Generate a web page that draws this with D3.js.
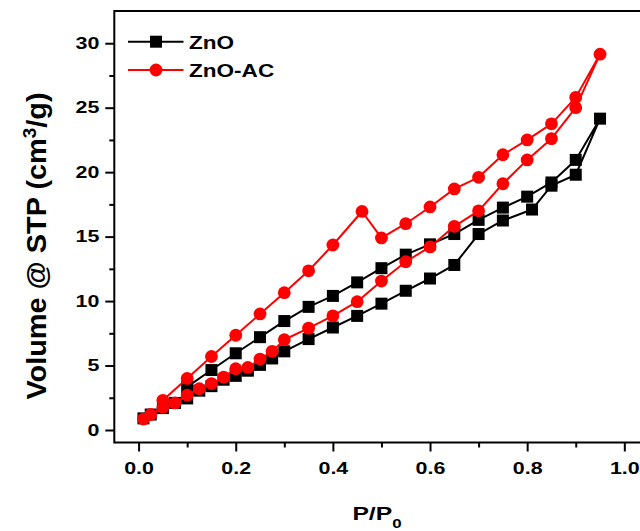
<!DOCTYPE html>
<html>
<head>
<meta charset="utf-8">
<script src="https://cdn.jsdelivr.net/npm/d3@7"></script>
<style>
  html, body { margin: 0; padding: 0; background: #fff; }
  svg { display: block; font-family: "Liberation Sans", Arial, sans-serif; }
</style>
</head>
<body>
<svg id="chart" width="640" height="531"></svg>
<script>
// ZnO isotherm: adsorption up to 0.95, then desorption back down
const znoX = [0.01, 0.025, 0.05, 0.075, 0.1, 0.125, 0.15, 0.175, 0.2, 0.225, 0.25, 0.275, 0.3, 0.35, 0.4, 0.45, 0.5, 0.55, 0.6, 0.65, 0.7, 0.75, 0.81, 0.85, 0.9, 0.95,
              0.9, 0.85, 0.8, 0.75, 0.7, 0.65, 0.6, 0.55, 0.5, 0.45, 0.4, 0.35, 0.3, 0.25, 0.2, 0.15, 0.1];
const znoY = [0.9, 1.2, 1.7, 2.1, 2.45, 3.05, 3.4, 3.9, 4.2, 4.6, 5.05, 5.55, 6.1, 7.05, 7.95, 8.85, 9.8, 10.8, 11.75, 12.8, 15.2, 16.25, 17.1, 18.95, 19.8, 24.15,
              20.95, 19.2, 18.1, 17.25, 16.3, 15.2, 14.4, 13.6, 12.55, 11.45, 10.4, 9.55, 8.45, 7.2, 5.95, 4.65, 3.35];

// ZnO-AC isotherm
const acX = [0.01, 0.025, 0.05, 0.075, 0.1, 0.125, 0.15, 0.175, 0.2, 0.225, 0.25, 0.275, 0.3, 0.35, 0.4, 0.45, 0.5, 0.55, 0.6, 0.65, 0.7, 0.75, 0.8, 0.85, 0.9, 0.95,
             0.9, 0.85, 0.8, 0.75, 0.7, 0.65, 0.6, 0.55, 0.5, 0.46, 0.4, 0.35, 0.3, 0.25, 0.2, 0.15, 0.1, 0.05];
const acY = [0.85, 1.2, 1.75, 2.1, 2.7, 3.2, 3.6, 4.1, 4.75, 4.85, 5.5, 6.1, 7.0, 7.9, 8.85, 9.95, 11.55, 13.05, 14.2, 15.8, 17.0, 19.1, 20.95, 22.6, 25.0, 29.15,
             25.8, 23.75, 22.5, 21.35, 19.6, 18.7, 17.3, 16.0, 14.9, 16.95, 14.35, 12.35, 10.65, 9.0, 7.35, 5.7, 4.0, 2.3];

const xTicks = [0, 0.2, 0.4, 0.6, 0.8, 1.0];
const xMinor = [0.1, 0.3, 0.5, 0.7, 0.9];
const yTicks = [0, 5, 10, 15, 20, 25, 30];
const yMinor = [2.5, 7.5, 12.5, 17.5, 22.5, 27.5];

const series = [
  { name: "ZnO", color: "#000000", shape: "square", xs: znoX, ys: znoY },
  { name: "ZnO-AC", color: "#ff0000", shape: "circle", xs: acX, ys: acY }
];

const svg = d3.select("#chart");
const plotL = 114.3, plotR = 648.6, plotT = 11, plotB = 442.5;
const stretch = 1.3;   // lettering in the source is wide for its height

const x = d3.scaleLinear().domain([-0.05, 1.05]).range([plotL, plotR]);
const y = d3.scaleLinear().domain([-0.97, 32.5]).range([plotB, plotT]);

// frame (right side runs off the image)
svg.append("path")
  .attr("d", `M${plotR},${plotT}H${plotL}V${plotB}H${plotR}`)
  .attr("fill", "none")
  .attr("stroke", "#000")
  .attr("stroke-width", 2);

// y axis
const yAxis = d3.axisLeft(y).tickValues(yTicks).tickSize(9).tickFormat(d3.format("d"));
const gy = svg.append("g").attr("transform", `translate(${plotL},0)`).call(yAxis);
gy.select(".domain").remove();
gy.selectAll(".tick line").attr("stroke-width", 2);
gy.selectAll("text")
  .attr("x", -15 / stretch)
  .attr("transform", `scale(${stretch},1)`)
  .attr("font-size", 16.5).attr("font-weight", "bold")
  .attr("font-family", "Liberation Sans, Arial, sans-serif");
const gyMinor = svg.append("g").attr("transform", `translate(${plotL},0)`)
  .call(d3.axisLeft(y).tickValues(yMinor).tickSize(5).tickFormat(""));
gyMinor.select(".domain").remove();
gyMinor.selectAll(".tick line").attr("stroke-width", 2);

// x axis
const xAxis = d3.axisBottom(x).tickValues(xTicks).tickSize(9).tickPadding(11).tickFormat(d3.format(".1f"));
const gx = svg.append("g").attr("transform", `translate(0,${plotB})`).call(xAxis);
gx.select(".domain").remove();
gx.selectAll(".tick line").attr("stroke-width", 2);
gx.selectAll("text")
  .attr("transform", `scale(${stretch},1)`)
  .attr("font-size", 16.5).attr("font-weight", "bold")
  .attr("font-family", "Liberation Sans, Arial, sans-serif");
const gxMinor = svg.append("g").attr("transform", `translate(0,${plotB})`)
  .call(d3.axisBottom(x).tickValues(xMinor).tickSize(5).tickFormat(""));
gxMinor.select(".domain").remove();
gxMinor.selectAll(".tick line").attr("stroke-width", 2);

// axis titles
svg.append("text")
  .attr("transform", `translate(46,246) rotate(-90) scale(1.05,1)`)
  .attr("text-anchor", "middle")
  .attr("font-size", 27.5)
  .attr("font-weight", "bold")
  .html('Volume @ STP (cm<tspan dy="-10" font-size="18">3</tspan><tspan dy="10">/g)</tspan>');

svg.append("text")
  .attr("transform", `translate(377,520) scale(${stretch},1)`)
  .attr("text-anchor", "middle")
  .attr("font-size", 19)
  .attr("font-weight", "bold")
  .html('P/P<tspan dy="8" font-size="13">0</tspan>');

// lines + markers
const line = d3.line().x(d => x(d[0])).y(d => y(d[1]));

function marker(g, shape, color, cx, cy) {
  if (shape === "square") {
    g.append("rect")
      .attr("x", cx - 6).attr("y", cy - 6)
      .attr("width", 12).attr("height", 12)
      .attr("fill", color);
  } else {
    g.append("circle")
      .attr("cx", cx).attr("cy", cy).attr("r", 6.4)
      .attr("fill", color);
  }
}

series.forEach(s => {
  const pts = s.xs.map((v, i) => [v, s.ys[i]]);
  const g = svg.append("g");
  g.append("path")
    .datum(pts)
    .attr("fill", "none")
    .attr("stroke", s.color)
    .attr("stroke-width", 2)
    .attr("stroke-linejoin", "round")
    .attr("d", line);
  pts.forEach(p => marker(g, s.shape, s.color, x(p[0]), y(p[1])));
});

// legend
const legend = svg.append("g");
series.forEach((s, i) => {
  const yy = 41.7 + i * 28.3;
  legend.append("line")
    .attr("x1", 128).attr("x2", 183.5)
    .attr("y1", yy).attr("y2", yy)
    .attr("stroke", s.color).attr("stroke-width", 2);
  marker(legend, s.shape, s.color, 156, yy);
  legend.append("text")
    .attr("transform", `translate(189,${yy + 6.8}) scale(1.22,1)`)
    .attr("font-size", 18.5)
    .attr("font-weight", "bold")
    .text(s.name);
});
</script>
</body>
</html>
